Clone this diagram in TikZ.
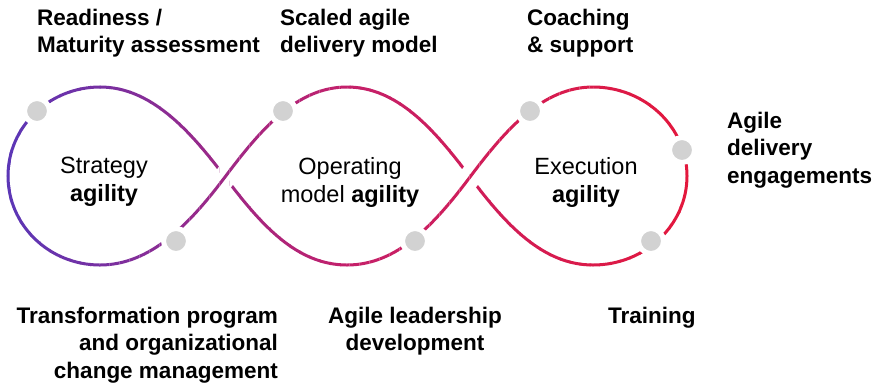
\documentclass[tikz,border=0pt]{standalone}
\usepackage{fontspec}
\setmainfont{Liberation Sans}

\definecolor{aLeft}{HTML}{5B36B6}
\definecolor{aMid}{HTML}{C4206A}
\definecolor{aRight}{HTML}{E3183D}
\definecolor{aDot}{HTML}{D2D2D2}

% the closed figure through the three loops
\newcommand{\figurepath}{(x1) .. controls +(-36,-48) and +(50,0) .. (lt)
  .. controls +(-51,0) and +(0,-49) .. (ll)
  .. controls +(0,49) and +(-51,0) .. (lb)
  .. controls +(50,0) and +(-36,48) .. (x1)
  .. controls +(36,-48) and +(-50,0) .. (mt)
  .. controls +(50,0) and +(-36,-48) .. (x2)
  .. controls +(36,48) and +(-50,0) .. (rb)
  .. controls +(52,0) and +(0,49) .. (rr)
  .. controls +(0,-49) and +(52,0) .. (rt)
  .. controls +(-50,0) and +(36,-48) .. (x2)
  .. controls +(-36,48) and +(50,0) .. (mb)
  .. controls +(-50,0) and +(36,48) .. (x1)}
% the strands that pass over at the crossings
\newcommand{\overstrands}{(lb) .. controls +(50,0) and +(-36,48) .. (x1)
  .. controls +(36,-48) and +(-50,0) .. (mt)
  (mb) .. controls +(50,0) and +(-36,48) .. (x2)
  .. controls +(36,-48) and +(-50,0) .. (rt)}

\begin{document}
\begin{tikzpicture}
  [x=1pt,y=-1pt,
  strand/.style={line width=3pt},
  notch/.style={line width=22pt,white},
  bead/.style={circle,fill=aDot,draw=white,line width=5pt,
    minimum size=25pt,inner sep=0pt},
  lab/.style={font=\bfseries\fontsize{22.5}{27.5}\selectfont,inner sep=0pt},
  core/.style={font=\fontsize{23.5}{28.5}\selectfont,inner sep=0pt,align=center}]

  \useasboundingbox (0,0) rectangle (872,384);

  \coordinate (x1) at (225,177);
  \coordinate (x2) at (470,177);
  \coordinate (lt) at (100,87);
  \coordinate (ll) at (8,176);
  \coordinate (lb) at (100,265);
  \coordinate (mt) at (347,87);
  \coordinate (mb) at (347,265);
  \coordinate (rt) at (593,87);
  \coordinate (rr) at (687,176);
  \coordinate (rb) at (593,265);

  % colour runs from left to right, one strip at a time
  \foreach \xa in {0,10,...,690} {
    \pgfmathtruncatemacro{\pc}{max(0,min(100,(\xa-3)/3.39))}
    \pgfmathtruncatemacro{\pd}{max(0,min(100,(\xa-342)/3.4))}
    \colorlet{stripcol}{aRight!\pd!aMid!\pc!aLeft}
    \begin{scope}
      \clip (\xa-0.5,0) rectangle (\xa+10.5,384);
      \draw[strand,stripcol] \figurepath;
      \draw[notch] \overstrands;
      \draw[strand,stripcol] \overstrands;
    \end{scope}
  }

  \node[bead] (b1) at (37,111) {};
  \node[bead] (b2) at (176,241) {};
  \node[bead] (b3) at (283,111) {};
  \node[bead] (b4) at (415,241) {};
  \node[bead] (b5) at (530,111) {};
  \node[bead] (b6) at (682,150) {};
  \node[bead] (b7) at (651,241) {};

  \node[core,anchor=north] (str) at (104,156.8) {Strategy\\\textbf{agility}};
  \node[core,anchor=north] (opm) at (350,156.8) {Operating\\model \textbf{agility}};
  \node[core,anchor=north] (exe) at (586,157.2) {Execution\\\textbf{agility}};

  \node[lab,anchor=north west,align=left] (rdy) at (37,8.6) {Readiness /\\Maturity assessment};
  \node[lab,anchor=north west,align=left] (sca) at (280,8.6) {Scaled agile\\delivery model};
  \node[lab,anchor=north west,align=left] (coa) at (527,8.6) {Coaching\\\& support};
  \node[lab,anchor=north west,align=left] (eng) at (727,111.8) {Agile\\delivery\\engagements};
  \node[lab,anchor=north east,align=right] (trg) at (278,306.6) {Transformation program\\and organizational\\change management};
  \node[lab,anchor=north,align=center] (lead) at (415,306.6) {Agile leadership\\development};
  \node[lab,anchor=north west,align=left] (trn) at (608,306.6) {Training};
\end{tikzpicture}
\end{document}
